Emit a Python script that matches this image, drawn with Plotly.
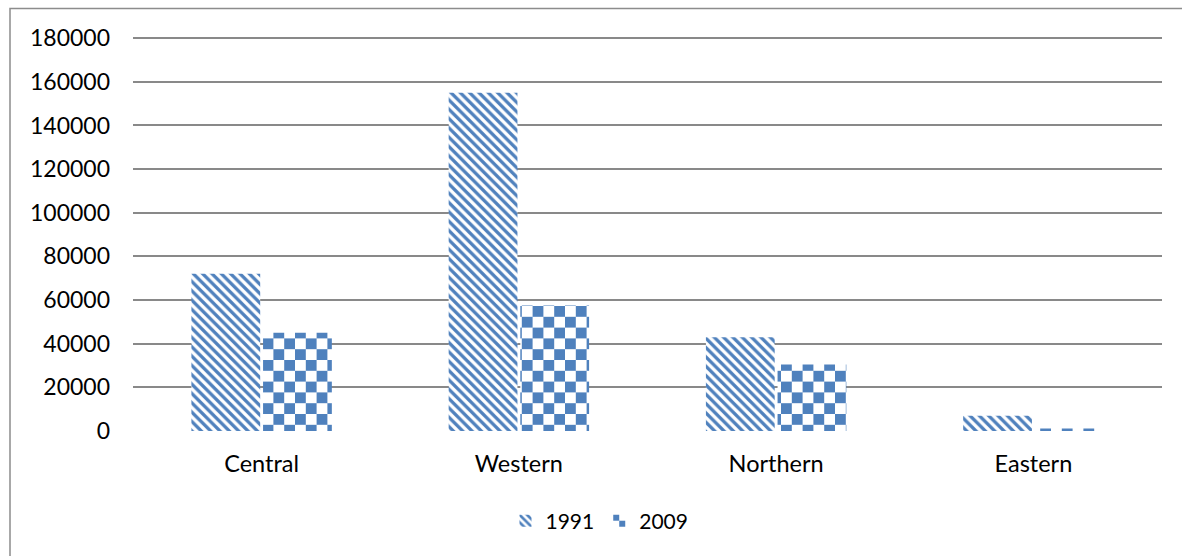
import plotly.graph_objects as go

regions = ["Central", "Western", "Northern", "Eastern"]
values_1991 = [72000, 155000, 43000, 7000]
values_2009 = [45000, 57500, 30500, 1200]
series_names = ["1991", "2009"]
y_ticks = [0, 20000, 40000, 60000, 80000, 100000, 120000, 140000, 160000, 180000]

BLUE = "#4F81BD"
FONT = "Lato"

fig = go.Figure()
fig.add_trace(go.Bar(
    x=regions, y=values_1991, name=series_names[0], uid="t1991",
    marker=dict(color="white", line=dict(width=0),
                pattern=dict(shape="\\", fgcolor=BLUE, bgcolor="white",
                             size=6.6, solidity=0.5, fillmode="replace")),
))
fig.add_trace(go.Bar(
    x=regions, y=values_2009, name=series_names[1], uid="t2009",
    marker=dict(color="white", line=dict(width=0),
                pattern=dict(shape=".", fgcolor=BLUE, bgcolor="white",
                             size=10.8, solidity=0.5, fillmode="replace")),
))

fig.update_layout(
    width=1182, height=556,
    margin=dict(l=133, r=20, t=36, b=125),
    paper_bgcolor="white", plot_bgcolor="white",
    barmode="group", bargap=0.443, bargroupgap=0.04,
    font=dict(family=FONT, size=23, color="black"),
    showlegend=True,
    legend=dict(orientation="h", x=0.362, xanchor="left", y=-0.228, yanchor="middle",
                font=dict(family=FONT, size=21, color="black"),
                itemwidth=30, bgcolor="rgba(0,0,0,0)"),
    xaxis=dict(showgrid=False, showline=False, zeroline=False, ticks="",
               ticklabelstandoff=16, tickfont=dict(size=23.5)),
    yaxis=dict(range=[0, 181000], tickvals=y_ticks, ticktext=[str(v) for v in y_ticks],
               showgrid=True, gridcolor="#898989", gridwidth=1.5,
               zeroline=False, showline=False, ticks="",
               ticklabelstandoff=22, tickfont=dict(size=23)),
    shapes=[dict(type="rect", xref="paper", yref="paper",
                 x0=(10 - 133) / 1029, x1=1.3, y0=-0.6, y1=(431 - 8.5) / 395,
                 line=dict(color="#8c8c8c", width=1.5), fillcolor="rgba(0,0,0,0)",
                 layer="below")],
)

CELL = 10.8
post = """
(function(){
var gd = document.getElementById('{plot_id}');
var ns = 'http://www.w3.org/2000/svg';
function mk(x, y, w, h, fill){
  var r = document.createElementNS(ns, 'rect');
  r.setAttribute('x', x); r.setAttribute('y', y);
  r.setAttribute('width', w); r.setAttribute('height', h);
  r.setAttribute('fill', fill);
  return r;
}
function fix(){
  var pats = gd.querySelectorAll('pattern');
  pats.forEach(function(p){
    if(p.id.indexOf('t2009') < 0) return;
    var c = CELLVAL, w = 2 * c;
    p.setAttribute('width', w + 'px');
    p.setAttribute('height', w + 'px');
    while(p.firstChild) p.removeChild(p.firstChild);
    p.appendChild(mk(0, 0, w, w, 'white'));
    p.appendChild(mk(0, 0, c, c, 'BLUEVAL'));
    p.appendChild(mk(c, c, c, c, 'BLUEVAL'));
  });
}
fix();
if(gd.on) gd.on('plotly_afterplot', fix);
})();
""".replace("CELLVAL", str(CELL)).replace("BLUEVAL", BLUE)

fig.write_html("out.html", post_script=post)
